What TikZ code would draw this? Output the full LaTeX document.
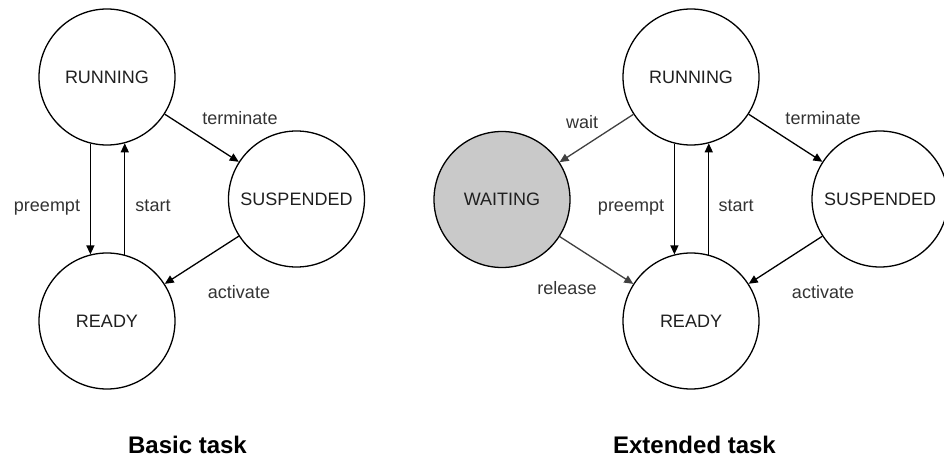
\documentclass[tikz,border=0pt]{standalone}
\usepackage{fontspec}
\setmainfont{Liberation Sans}
\usetikzlibrary{arrows.meta}
\begin{document}
\begin{tikzpicture}[x=1pt,y=-1pt,
  state/.style={circle,draw=black,line width=1.3pt,minimum size=136pt,inner sep=0pt,
    text=black!88,font=\fontsize{18}{20}\selectfont},
  waitstate/.style={state,fill=black!21},
  trans/.style={line width=1.3pt,-{Triangle[length=9pt,width=8pt]}},
  softtrans/.style={trans,draw=black!75},
  lbl/.style={anchor=base,text=black!80,font=\fontsize{18}{20}\selectfont,inner sep=0pt},
  title/.style={anchor=base,font=\bfseries\fontsize{24}{28}\selectfont,inner sep=0pt}]
\useasboundingbox (0,0) rectangle (944,460);

% ---- basic task ----
\node[state] (run) at (107,77) {RUNNING};
\node[state] (sus) at (296.5,199) {SUSPENDED};
\node[state] (rdy) at (107,321) {READY};

\draw[trans] (run) -- (sus);
\draw[trans] (sus) -- (rdy);
\draw[trans] (run.-104.5) -- (rdy.104.5);
\draw[trans] (rdy.75.5) -- (run.-75.5);

\node[lbl] (lterm) at (240,124) {terminate};
\node[lbl] (lpre) at (47,211) {preempt};
\node[lbl] (lsta) at (153,211) {start};
\node[lbl] (lact) at (239,298) {activate};
\node[title] (tbasic) at (187.5,453) {Basic task};

% ---- extended task ----
\node[state] (run2) at (691,77) {RUNNING};
\node[waitstate] (wt) at (502,199.5) {WAITING};
\node[state] (sus2) at (880,199) {SUSPENDED};
\node[state] (rdy2) at (691,321) {READY};

\draw[softtrans] (run2) -- (wt);
\draw[softtrans] (wt) -- (rdy2);
\draw[trans] (run2) -- (sus2);
\draw[trans] (sus2) -- (rdy2);
\draw[trans] (run2.-104.5) -- (rdy2.104.5);
\draw[trans] (rdy2.75.5) -- (run2.-75.5);

\node[lbl] (lwait) at (582,128) {wait};
\node[lbl] (lterm2) at (823,124) {terminate};
\node[lbl] (lpre2) at (631,211) {preempt};
\node[lbl] (lsta2) at (736,211) {start};
\node[lbl] (lrel) at (567,294) {release};
\node[lbl] (lact2) at (823,298) {activate};
\node[title] (text) at (694.5,453) {Extended task};
\end{tikzpicture}
\end{document}
